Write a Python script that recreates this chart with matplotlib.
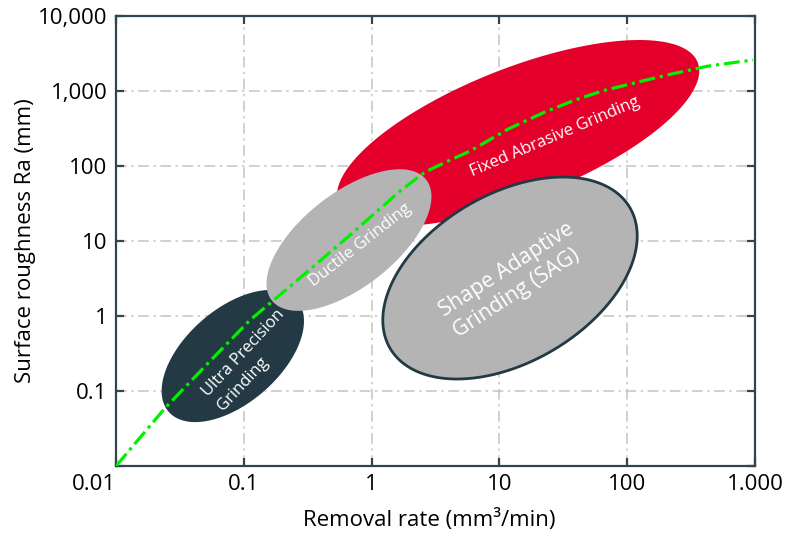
import numpy as np
import matplotlib
matplotlib.use("Agg")
import matplotlib.pyplot as plt

plt.rcParams["font.family"] = ["Open Sans", "DejaVu Sans"]

# axis ticks
x_ticks = [0.01, 0.1, 1, 10, 100, 1000]
x_labels = ["0.01", "0.1", "1", "10", "100", "1.000"]
y_ticks = [0.01, 0.1, 1, 10, 100, 1000, 10000]
y_labels = ["", "0.1", "1", "10", "100", "1,000", "10,000"]

# trend line
curve_x = [0.01, 0.0242, 0.0545, 0.112, 0.275, 0.678, 1.67, 2.62, 4.10, 5.89,
           11.7, 22.7, 39.1, 63.5, 131, 224, 429, 736, 964]
curve_y = [0.01, 0.0593, 0.251, 0.885, 3.21, 12.0, 46.5, 83.2, 120, 158,
           311, 525, 759, 1000, 1360, 1690, 2150, 2440, 2590]

# process regions (centres in data units)
region_names = ["Fixed Abrasive", "Ultra Precision", "Ductile", "SAG"]
region_cx = [14.0, 0.082, 0.665, 12.1]
region_cy = [275, 0.293, 10.3, 3.21]

# region labels
label_text = ["Fixed Abrasive Grinding", "Ultra Precision\nGrinding",
              "Ductile Grinding", "Shape Adaptive\nGrinding (SAG)"]
label_x = [27.2, 0.114, 0.81, 13.0]
label_y = [244, 0.259, 8.85, 3.0]

# shape / style per region: semi-axes in pixels, tilt in degrees
shape = {
    "Fixed Abrasive": dict(a=193, b=65, ang=21.5, fc="#e4002b", ec="none", lw=0),
    "Ultra Precision": dict(a=85, b=47, ang=41, fc="#233a44", ec="none", lw=0),
    "Ductile": dict(a=98, b=47, ang=38, fc="#b4b4b4", ec="none", lw=0),
    "SAG": dict(a=139, b=84, ang=30.4, fc="#b4b4b4", ec="#233a44", lw=2.0),
}
label_style = [dict(rot=23, fs=12, ls=1.3), dict(rot=47, fs=12, ls=1.45),
               dict(rot=38, fs=12, ls=1.3), dict(rot=33, fs=15.5, ls=1.3)]

fig = plt.figure(figsize=(8.04, 5.34), dpi=100)
ax = fig.add_axes([0.1443, 0.1273, 0.7948, 0.8427])
ax.set_xscale("log")
ax.set_yscale("log")
ax.set_xlim(0.01, 1000)
ax.set_ylim(0.01, 10000)

# pixels per decade, so the ellipses keep their on-screen shape
bbox = ax.get_window_extent()
px_x = bbox.width / 5.0
px_y = bbox.height / 6.0

t = np.linspace(0, 2 * np.pi, 300)
for i, name in enumerate(region_names):
    s = shape[name]
    th = np.radians(s["ang"])
    dx = s["a"] * np.cos(t) * np.cos(th) - s["b"] * np.sin(t) * np.sin(th)
    dy = s["a"] * np.cos(t) * np.sin(th) + s["b"] * np.sin(t) * np.cos(th)
    ex = 10 ** (np.log10(region_cx[i]) + dx / px_x)
    ey = 10 ** (np.log10(region_cy[i]) + dy / px_y)
    ax.fill(ex, ey, facecolor=s["fc"], edgecolor=s["ec"], linewidth=s["lw"],
            zorder=2 + i)

ax.plot(curve_x, curve_y, color="#00f000", lw=2.3,
        linestyle=(0, (5, 1.5, 1, 1.5)), zorder=10)

for i, txt in enumerate(label_text):
    st = label_style[i]
    ax.text(label_x[i], label_y[i], txt, color="white", fontsize=st["fs"],
            rotation=st["rot"], ha="center", va="center",
            multialignment="left", linespacing=st["ls"], zorder=11)

ax.grid(True, color="#c4c4c4", lw=1.1, linestyle=(0, (7, 3, 1.5, 3)), zorder=0)
ax.set_axisbelow(True)
ax.minorticks_off()
ax.set_xticks(x_ticks)
ax.set_xticklabels(x_labels)
ax.set_yticks(y_ticks)
ax.set_yticklabels(y_labels)
ax.get_xticklabels()[0].set_horizontalalignment("right")

for sp in ax.spines.values():
    sp.set_color("#2e4652")
    sp.set_linewidth(1.6)
ax.tick_params(which="major", direction="in", length=6, width=1.6,
               color="#2e4652", top=True, right=True, labelsize=16,
               labelcolor="black", pad=6)

ax.set_xlabel("Removal rate (mm³/min)", fontsize=16)
ax.set_ylabel("Surface roughness Ra (mm)", fontsize=16)
ax.xaxis.set_label_coords(0.49, -0.095)
ax.yaxis.set_label_coords(-0.125, 0.5)

fig.savefig("out.png", dpi=100)
